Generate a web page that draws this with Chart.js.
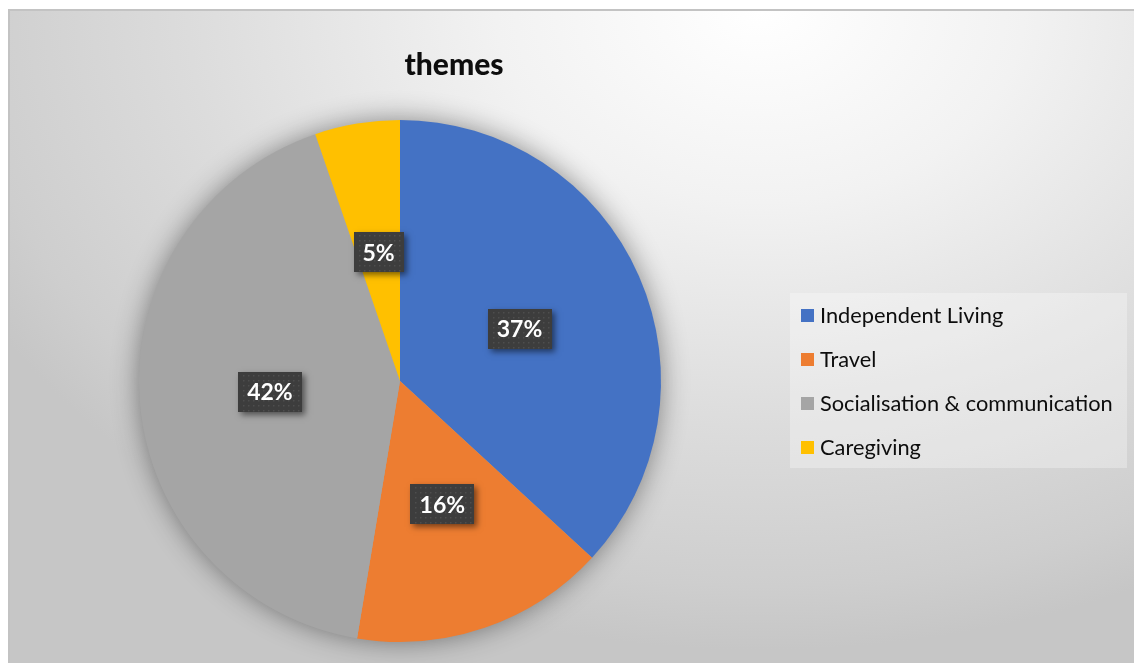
<!DOCTYPE html>
<html><head><meta charset="utf-8">
<script src="https://cdn.jsdelivr.net/npm/chart.js@4.4.1/dist/chart.umd.min.js"></script>
<style>html,body{margin:0;padding:0;background:#fff;overflow:hidden}#wrap{width:1134px;height:663px;position:relative}canvas{display:block}</style>
</head><body><div id="wrap"><canvas id="c" width="1134" height="663"></canvas></div>
<script>
const chartTitle = 'themes';
const categories = ['Independent Living', 'Travel', 'Socialisation & communication', 'Caregiving'];
const counts = [35, 15, 40, 5];
const sliceColors = ['#4472C4', '#ED7D31', '#A5A5A5', '#FFC000'];

const FONT = 'Lato, "Open Sans", sans-serif';

const decor = {
  id: 'decor',
  beforeDraw(chart) {
    const ctx = chart.ctx, W = chart.width, H = chart.height;
    ctx.save();
    ctx.fillStyle = '#ffffff';
    ctx.fillRect(0, 0, W, H);
    ctx.save();
    ctx.beginPath();
    ctx.rect(8, 9, W - 8, H - 9);
    ctx.clip();
    const cx = 760, cy = 10, rx = 880, ry = 640;
    ctx.translate(cx, cy);
    ctx.scale(1, ry / rx);
    const g = ctx.createRadialGradient(0, 0, 0, 0, 0, rx);
    g.addColorStop(0, '#ffffff');
    g.addColorStop(0.3, '#f2f2f2');
    g.addColorStop(0.65, '#dcdcdc');
    g.addColorStop(0.9, '#cecece');
    g.addColorStop(1, '#c6c6c6');
    ctx.fillStyle = g;
    ctx.fillRect(-cx - 10, -cy * rx / ry - 10, W + 20, (H + 20) * rx / ry);
    ctx.restore();
    ctx.strokeStyle = '#c3c3c3';
    ctx.lineWidth = 2;
    ctx.beginPath();
    ctx.moveTo(9, H + 2);
    ctx.lineTo(9, 10);
    ctx.lineTo(W + 2, 10);
    ctx.stroke();
    ctx.restore();
  },
  beforeDatasetsDraw(chart) {
    const ctx = chart.ctx;
    const arc = chart.getDatasetMeta(0).data[0];
    if (!arc) return;
    ctx.save();
    ctx.shadowColor = 'rgba(0,0,0,0.45)';
    ctx.shadowBlur = 28;
    ctx.fillStyle = '#a5a5a5';
    ctx.beginPath();
    ctx.arc(arc.x, arc.y, arc.outerRadius - 1, 0, Math.PI * 2);
    ctx.fill();
    ctx.restore();
  },
  afterDatasetsDraw(chart) {
    const ctx = chart.ctx;
    const meta = chart.getDatasetMeta(0);
    const data = chart.data.datasets[0].data;
    const total = data.reduce((a, b) => a + b, 0);
    ctx.save();
    ctx.font = 'bold 23px ' + FONT;
    meta.data.forEach((arc, i) => {
      const p = arc.tooltipPosition();
      const txt = Math.round(data[i] / total * 100) + '%';
      const tw = ctx.measureText(txt).width;
      const bw = Math.round(tw + 18), bh = 40;
      const bx = Math.round(p.x - bw / 2), by = Math.round(p.y - bh / 2);
      ctx.save();
      ctx.shadowColor = 'rgba(0,0,0,0.5)';
      ctx.shadowBlur = 6;
      ctx.shadowOffsetX = 3;
      ctx.shadowOffsetY = 3;
      ctx.fillStyle = '#3d3d3d';
      ctx.fillRect(bx, by, bw, bh);
      ctx.restore();
      ctx.fillStyle = '#4e4e4e';
      for (let yy = by + 3; yy < by + bh - 1; yy += 5) {
        for (let xx = bx + 3 + ((yy - by) % 10 ? 2 : 0); xx < bx + bw - 1; xx += 5) {
          ctx.fillRect(xx, yy, 1.5, 1.5);
        }
      }
      ctx.fillStyle = '#ffffff';
      ctx.textAlign = 'center';
      ctx.textBaseline = 'middle';
      ctx.fillText(txt, p.x, p.y + 1);
    });
    ctx.restore();

    ctx.save();
    ctx.font = '900 30px ' + FONT;
    ctx.fillStyle = '#0d0d0d';
    ctx.textAlign = 'center';
    ctx.textBaseline = 'alphabetic';
    ctx.fillText(chartTitle, 454, 75);
    ctx.restore();

    ctx.save();
    ctx.fillStyle = 'rgba(255,255,255,0.3)';
    ctx.fillRect(790, 293, 337, 175);
    ctx.font = '21.8px ' + FONT;
    ctx.textAlign = 'left';
    ctx.textBaseline = 'middle';
    chart.data.labels.forEach((lab, i) => {
      const y = 315 + i * 44;
      ctx.fillStyle = chart.data.datasets[0].backgroundColor[i];
      ctx.fillRect(801, y - 6, 13, 13);
      ctx.fillStyle = '#0d0d0d';
      ctx.fillText(lab, 820, y + 1);
    });
    ctx.restore();
  }
};

function build() {
  new Chart(document.getElementById('c'), {
    type: 'pie',
    data: {
      labels: categories,
      datasets: [{
        data: counts,
        backgroundColor: sliceColors,
        borderWidth: 0,
        hoverOffset: 0
      }]
    },
    options: {
      responsive: false,
      animation: false,
      devicePixelRatio: 1,
      layout: { padding: { top: 120, bottom: 21, left: 139, right: 473 } },
      plugins: {
        legend: { display: false },
        title: { display: false },
        tooltip: { enabled: false }
      }
    },
    plugins: [decor]
  });
}
Promise.all([
  document.fonts.load('bold 23px Lato'),
  document.fonts.load('900 30px Lato'),
  document.fonts.load('21.8px Lato')
]).then(build, build);
</script>
</body></html>
